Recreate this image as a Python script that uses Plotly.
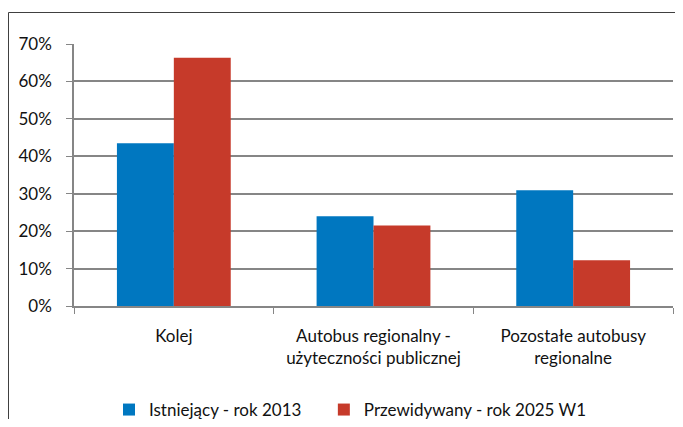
import plotly.graph_objects as go

categories = ["Kolej", "Autobus regionalny -<br>użyteczności publicznej", "Pozostałe autobusy<br>regionalne"]
series_names = ["Istniejący - rok 2013", "Przewidywany - rok 2025 W1"]
values_2013 = [0.435, 0.240, 0.309]
values_2025 = [0.663, 0.215, 0.122]
y_ticks = [0, 0.1, 0.2, 0.3, 0.4, 0.5, 0.6, 0.7]
y_tick_labels = ["0%", "10%", "20%", "30%", "40%", "50%", "60%", "70%"]

colors = ["#0077C0", "#C63A2A"]
FONT = "Lato"
FS = 17
NBSP = "\u00a0"

fig = go.Figure()
for i, (name, vals, c) in enumerate(zip(series_names, [values_2013, values_2025], colors)):
    label = name + (NBSP * 4 if i == 0 else "")
    fig.add_trace(go.Bar(x=categories, y=vals, name=label, marker=dict(color=c, line=dict(width=0))))

# page body has an 8px default margin; compensate
OFF = 8
W, H = 683 - 2 * OFF, 427 - 2 * OFF
L, R, T, B = 74 - OFF, 673 - OFF, 44 - OFF, 306 - OFF
pw, ph = R - L, B - T

def px_x(p):  # page x -> paper
    return (p - OFF - L) / pw

def px_y(p):  # page y -> paper
    return (B - (p - OFF)) / ph

fig.update_layout(
    width=W, height=H,
    margin=dict(l=L, r=W - R, t=T, b=H - B, autoexpand=False),
    paper_bgcolor="white", plot_bgcolor="white",
    barmode="group", bargap=0.43, bargroupgap=0,
    font=dict(family=FONT, size=FS, color="#111111"),
    showlegend=True,
    legend=dict(orientation="h", x=px_x(109), xanchor="left", y=px_y(410), yanchor="middle",
                font=dict(size=FS), itemwidth=30, traceorder="normal"),
    shapes=[dict(type="rect", xref="paper", yref="paper",
                 x0=px_x(8.5), x1=px_x(720), y0=px_y(460), y1=px_y(12.5),
                 line=dict(color="#404040", width=1), fillcolor="rgba(0,0,0,0)", layer="below")],
)
fig.update_xaxes(showline=True, linecolor="#868686", linewidth=1.5,
                 ticks="outside", tickson="boundaries", ticklen=6, tickcolor="#868686",
                 tickfont=dict(size=FS), showgrid=False, automargin=False, ticklabelstandoff=14)
fig.update_yaxes(range=[0, 0.7], tickvals=y_ticks, ticktext=y_tick_labels,
                 showline=True, linecolor="#868686", linewidth=1.5,
                 ticks="outside", ticklen=6, tickcolor="#868686",
                 showgrid=True, gridcolor="#868686", gridwidth=1.5,
                 zeroline=False, tickfont=dict(size=FS), ticklabelstandoff=11, automargin=False)

fig.write_html("out.html")
